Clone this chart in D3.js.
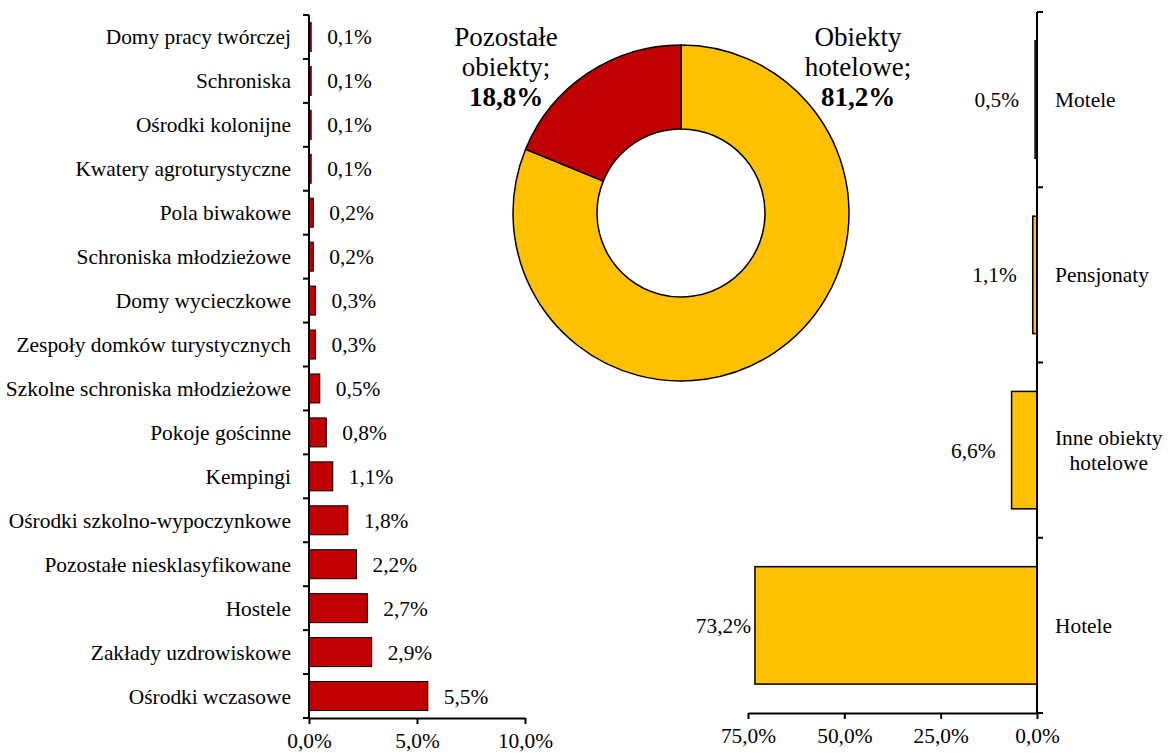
<!DOCTYPE html>
<html><head><meta charset="utf-8">
<script src="https://cdn.jsdelivr.net/npm/d3@7/dist/d3.min.js"></script>
<style>body{margin:0;background:#fff}svg{display:block}text{font-family:"Liberation Serif","Times New Roman",serif;fill:#000}</style>
</head><body><svg id="c" width="1174" height="753"></svg>
<script>
const leftCategories = ["Domy pracy twórczej","Schroniska","Ośrodki kolonijne","Kwatery agroturystyczne","Pola biwakowe","Schroniska młodzieżowe","Domy wycieczkowe","Zespoły domków turystycznych","Szkolne schroniska młodzieżowe","Pokoje gościnne","Kempingi","Ośrodki szkolno-wypoczynkowe","Pozostałe niesklasyfikowane","Hostele","Zakłady uzdrowiskowe","Ośrodki wczasowe"];
const leftValues = [0.1,0.1,0.1,0.1,0.2,0.2,0.3,0.3,0.5,0.8,1.1,1.8,2.2,2.7,2.9,5.5];
const leftTicks = [0,5,10];
const rightCategories = ["Motele","Pensjonaty","Inne obiekty hotelowe","Hotele"];
const rightValues = [0.5,1.1,6.6,73.2];
const rightTicks = [75,50,25,0];
const donutLabels = [["Obiekty","hotelowe;"],["Pozostałe","obiekty;"]];
const donutValues = [81.2,18.8];

const RED = "#C00000", YEL = "#FFC000";
const FS = "21.4px";
const fmt = v => d3.format(".1f")(v).replace(".", ",") + "%";
const svg = d3.select("#c");

// ---------- Left bar chart ----------
const xL = d3.scaleLinear().domain([0,10]).range([309,525]);
const yL = d3.scaleBand().domain(leftCategories).range([15,718]).paddingInner(0.34).paddingOuter(0.17);
const gL = svg.append("g");
gL.selectAll("rect").data(leftValues).join("rect")
  .attr("x", xL(0)).attr("y", (d,i)=>yL(leftCategories[i]))
  .attr("width", d=>xL(d)-xL(0)).attr("height", yL.bandwidth())
  .attr("fill", RED).attr("stroke","#000").attr("stroke-width",1);
gL.selectAll("text.val").data(leftValues).join("text").attr("class","val")
  .attr("x", d=>xL(d)+16).attr("y",(d,i)=>yL(leftCategories[i])+yL.bandwidth()/2)
  .attr("dy","0.35em").style("font-size",FS).text(fmt);
gL.selectAll("text.cat").data(leftCategories).join("text").attr("class","cat")
  .attr("x", xL(0)-18).attr("y", d=>yL(d)+yL.bandwidth()/2)
  .attr("dy","0.35em").attr("text-anchor","end").style("font-size",FS).text(d=>d);
const stepL = yL.step();
const bL = d3.range(leftCategories.length+1).map(i=>yL.range()[0]+i*stepL);
gL.append("line").attr("x1",xL(0)).attr("x2",xL(0)).attr("y1",bL[0]).attr("y2",bL[bL.length-1]).attr("stroke","#000").attr("stroke-width",2);
gL.selectAll("line.tk").data(bL).join("line").attr("class","tk")
  .attr("x1",xL(0)-6).attr("x2",xL(0)).attr("y1",d=>d).attr("y2",d=>d).attr("stroke","#000").attr("stroke-width",2);
const axL = gL.append("g").attr("transform",`translate(0,${bL[bL.length-1]})`)
  .call(d3.axisBottom(xL).tickValues(leftTicks).tickSize(6).tickSizeOuter(0).tickFormat(fmt));
axL.select(".domain").attr("stroke-width",2);
axL.selectAll(".tick line").attr("stroke-width",2);
axL.selectAll(".tick text").style("font-size",FS).style("font-family",'"Liberation Serif",serif').attr("dy","1.0em");

// ---------- Right bar chart ----------
const xR = d3.scaleLinear().domain([0,75]).range([1037,748]);
const yR = d3.scaleBand().domain(rightCategories).range([12,713]).paddingInner(0.33).paddingOuter(0.165);
const gR = svg.append("g");
gR.selectAll("rect").data(rightValues).join("rect")
  .attr("x", d=>xR(d)).attr("y",(d,i)=>yR(rightCategories[i]))
  .attr("width", d=>xR(0)-xR(d)).attr("height", yR.bandwidth())
  .attr("fill", YEL).attr("stroke","#000").attr("stroke-width",1.5);
gR.selectAll("text.val").data(rightValues).join("text").attr("class","val")
  .attr("x", d=>Math.max(xR(d)-16, xR(75)+3)).attr("y",(d,i)=>yR(rightCategories[i])+yR.bandwidth()/2)
  .attr("dy","0.35em").attr("text-anchor","end").style("font-size",FS).text(fmt);
rightCategories.forEach(c=>{
  const lines = c === "Inne obiekty hotelowe" ? ["Inne obiekty","hotelowe"] : [c];
  const cy = yR(c)+yR.bandwidth()/2;
  const t = gR.append("text").style("font-size",FS).attr("text-anchor", lines.length>1?"middle":"start");
  const x0 = 1055;
  lines.forEach((l,i)=>t.append("tspan").attr("x",x0).attr("y",cy + (i-(lines.length-1)/2)*25).attr("dy","0.35em").text(l));
  if(lines.length>1){
    let w = 0; t.selectAll("tspan").each(function(){w=Math.max(w,this.getComputedTextLength());});
    t.selectAll("tspan").attr("x", x0 + w/2);
  }
});
const stepR = yR.step();
const bR = d3.range(rightCategories.length+1).map(i=>yR.range()[0]+i*stepR);
gR.append("line").attr("x1",xR(0)).attr("x2",xR(0)).attr("y1",bR[0]).attr("y2",bR[bR.length-1]).attr("stroke","#000").attr("stroke-width",2);
gR.selectAll("line.tk").data(bR).join("line").attr("class","tk")
  .attr("x1",xR(0)).attr("x2",xR(0)+6).attr("y1",d=>d).attr("y2",d=>d).attr("stroke","#000").attr("stroke-width",2);
const axR = gR.append("g").attr("transform",`translate(0,${bR[bR.length-1]})`)
  .call(d3.axisBottom(xR).tickValues(rightTicks).tickSize(6).tickSizeOuter(0).tickFormat(fmt));
axR.select(".domain").attr("stroke-width",2);
axR.selectAll(".tick line").attr("stroke-width",2);
axR.selectAll(".tick text").style("font-size",FS).style("font-family",'"Liberation Serif",serif').attr("dy","1.0em");

// ---------- Donut ----------
const cx = 681, cy = 213;
const pie = d3.pie().sort(null).value(d=>d);
const arc = d3.arc().innerRadius(84).outerRadius(168);
const gD = svg.append("g").attr("transform",`translate(${cx},${cy})`);
gD.selectAll("path").data(pie(donutValues)).join("path")
  .attr("d", arc).attr("fill",(d,i)=>i===0?YEL:RED).attr("stroke","#000").attr("stroke-width",1.5);
const labelPos = [[858,46],[506,46]];
donutLabels.forEach((lines,i)=>{
  const t = svg.append("text").attr("text-anchor","middle").style("font-size","27px");
  lines.forEach((l,j)=>t.append("tspan").attr("x",labelPos[i][0]).attr("y",labelPos[i][1]+j*30).text(l));
  t.append("tspan").attr("x",labelPos[i][0]).attr("y",labelPos[i][1]+60).style("font-weight","bold").text(fmt(donutValues[i]));
});
</script></body></html>
